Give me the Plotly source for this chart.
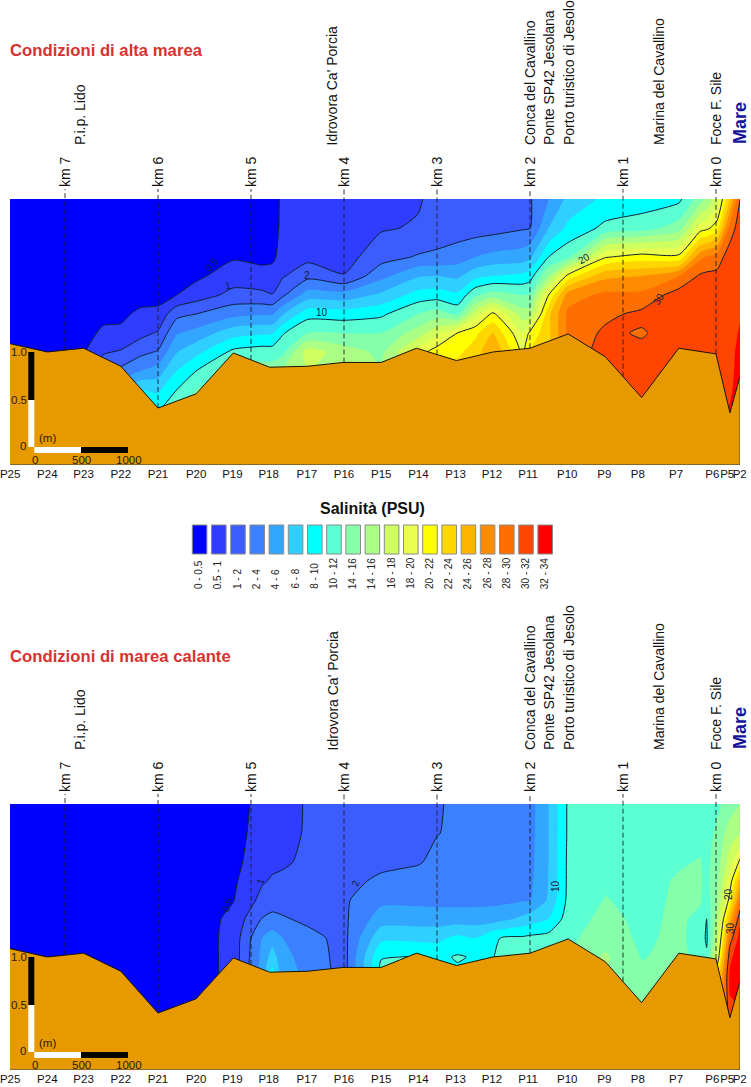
import numpy as np
import plotly.graph_objects as go

W, H = 751, 1087

# ---------- data ----------
stations = ["P25","P24","P23","P22","P21","P20","P19","P18","P17","P16","P15","P14","P13","P12","P11","P10","P9","P8","P7","P6","P5","P2"]
tick_km = [7.59,7.19,6.80,6.40,6.00,5.59,5.20,4.81,4.40,4.00,3.60,3.20,2.80,2.41,2.02,1.60,1.20,0.84,0.43,0.04,-0.12,-0.255]
bed_km = [7.60,7.19,6.80,6.40,6.00,5.59,5.19,4.80,4.39,4.01,3.60,3.22,2.79,2.40,2.00,1.59,1.19,0.80,0.40,0.00,-0.15,-0.26]
bed_m = [1.09,1.00,1.04,0.85,0.41,0.56,0.99,0.84,0.85,0.89,0.89,1.04,0.91,1.00,1.04,1.19,0.95,0.52,1.04,0.98,0.36,0.75]
km_marks = [7,6,5,4,3,2,1,0]

grid_km = [7.60,7.19,6.80,6.59,6.40,6.19,6.00,5.80,5.59,5.19,4.88,4.77,4.66,4.39,4.00,3.60,3.20,3.00,2.78,2.59,2.40,2.08,2.00,1.80,1.59,1.19,0.80,0.40,0.17,0.10,-0.01,-0.15,-0.26]
grid_m = [2.61,2.305,2.00,1.80,1.60,1.40,1.20,1.00,0.80,0.60,0.34]

# salinity (PSU): one line per grid_km column, values from surface down (grid_m)
high_tide_psu = [
 [.2,.2,.2,.2,.2,.2,.2,.2,.2,.2,.2],
 [.2,.2,.2,.2,.2,.2,.2,.2,.2,.2,.2],
 [.2,.2,.2,.2,.2,.2,.3,.45,.5,.5,.5],
 [.2,.2,.2,.2,.3,.35,.6,.95,1.6,3,6],
 [.2,.2,.2,.2,.3,.4,.6,1.1,2.5,6,10],
 [.2,.2,.2,.2,.3,.6,.85,1.7,4,8,11],
 [.2,.2,.2,.2,.3,.65,1.1,2.2,5,7.6,10.5],
 [.2,.2,.2,.2,.5,1.7,3.8,5.9,8,10,12],
 [.2,.2,.2,.4,.75,2,4.7,7.4,10,12,14],
 [.2,.2,.45,.75,1.3,3.4,7.2,10.5,12,14,14],
 [.2,.2,.35,.7,1.2,3.8,7.7,11,13,14,14],
 [.4,.42,.45,.6,1.05,3.8,7.8,11,13,14,14],
 [.55,.55,.6,.95,1.8,5.8,9.8,11.5,14,14,14],
 [.55,.6,.85,1.7,5,9.2,12,17,16,16,16],
 [.55,.65,.8,1.05,4.8,9,12,15,16,16,16],
 [.7,.95,1.6,3.4,6.4,9.6,12,13.5,14,14,14],
 [.95,1.1,2.2,5.8,8.8,12,15,19,19,19,19],
 [1.35,1.45,2.4,6,9,13,17.5,21,22,22,22],
 [1.3,1.5,3,5.6,8.4,11.5,20,21.5,23,23,23],
 [1.35,1.5,4,7.4,11.6,17,21.5,23,24,24,24],
 [1.4,1.6,4.6,8,13,20.5,24,26,27,27,27],
 [1.8,1.9,5,8.5,12,15,18,19.5,19.5,19.5,19.5],
 [1.9,1.95,5.6,9.1,12.1,15,20.5,22,22,22,22],
 [4,6,10,14,20,23.5,23.5,24,24,24,24],
 [6.5,8.5,11.5,20.8,27,28.5,28.5,28.5,29,29,29],
 [8.4,10.5,19.8,25.5,28.5,29.5,30.4,31,31,31,31],
 [9,11,21,26,28.5,30.5,29.8,30.5,31,31,31],
 [9.5,13,20.6,28,31,31,31,31,31,31,31],
 [13,19,27.5,30.3,31,31,31,31,31,31,31],
 [14,19.5,28.2,30.5,31,31,31,31,31,31,31],
 [17,21,29,30.5,31,31,31,31,31,31,31],
 [24,29,31,31,31,31,31,31,31,31.5,32.5],
 [30,31,31.2,31.4,31.6,31.8,32.3,33,33.5,33.5,33.5],
]
ebb_tide_psu = [
 [.2,.2,.2,.2,.2,.2,.2,.2,.2,.2,.2],
 [.2,.2,.2,.2,.2,.2,.2,.2,.2,.2,.2],
 [.2,.2,.2,.2,.2,.2,.2,.2,.2,.2,.2],
 [.2,.2,.2,.2,.2,.2,.2,.2,.2,.2,.2],
 [.2,.2,.2,.2,.2,.2,.2,.2,.2,.2,.2],
 [.2,.2,.2,.2,.2,.2,.2,.2,.2,.2,.2],
 [.2,.2,.2,.2,.2,.2,.2,.2,.2,.2,.2],
 [.2,.2,.2,.2,.2,.2,.2,.2,.2,.2,.2],
 [.2,.2,.2,.2,.2,.2,.2,.2,.2,.2,.2],
 [.3,.32,.38,.42,.48,.65,.7,.7,.7,.7,.7],
 [.65,.7,.75,.95,1.3,2.1,4,4.5,5,5,5],
 [.75,.8,.9,1.1,1.5,2.6,5,7,9,9,9],
 [.8,.85,.93,1.2,1.6,2.2,4,4.6,5,5,5],
 [1.1,1.1,1.2,1.4,1.6,1.8,2.6,3.2,3.5,3.5,3.5],
 [1.4,1.5,1.6,1.75,1.85,1.8,1.7,1.6,1.6,1.6,1.6],
 [1.5,1.6,1.8,2.3,3.5,5,7.5,9.9,10.6,10.6,10.6],
 [1.85,1.9,1.95,2.5,3.5,5,7.5,10.1,10.1,10.1,10.1],
 [1.95,1.98,2.3,2.6,3.4,5,7.5,9.5,9.5,9.5,9.5],
 [2.2,2.2,2.4,2.7,3.4,5,8.5,10.2,9.5,9.5,9.5],
 [2.5,2.5,2.6,2.85,3.4,5,8,9.8,9.8,9.8,9.8],
 [2.8,2.8,2.9,3,3.5,5,9.9,9.95,10,10,10],
 [3.1,3.2,3.3,3.5,3.8,6.5,10.3,11,11,11,11],
 [3.2,3.3,3.4,3.6,3.8,7,10.5,11,11,11,11],
 [6,6,6,6.1,6.3,8,10.8,11.5,12,12,12],
 [10.3,10.3,10.4,10.4,10.5,11,11.5,12,12,12,12],
 [10.8,11,11.3,11.7,12.1,12.6,13.2,14.3,14,14,14],
 [11,11.1,11.2,11.3,11.4,11.5,11.6,11.9,12.5,12.8,13],
 [11,11.3,11.8,12.2,12.3,12.4,12.5,12.5,12.5,12.5,12.5],
 [11,11.5,12.1,12.2,12.2,11.5,11,11.5,12,12,12],
 [11,11,11.5,11.5,11,9.95,9.7,10.3,11,11,11],
 [11.5,12.5,13,13.5,14,15,16,18,22,23,23],
 [13,15,17,19,20.8,25,29,31.5,32.5,32,31],
 [14,16,20.5,25,28.5,31.5,33,33.5,33.5,33,31],
]

class_bounds = [0,.5,1,2,4,6,8,10,12,14,16,18,20,22,24,26,28,30,32,34]
class_labels = ["0 - 0.5","0.5 - 1","1 - 2","2 - 4","4 - 6","6 - 8","8 - 10","10 - 12","14 - 16","14 - 16","16 - 18","18 - 20","20 - 22","22 - 24","24 - 26","26 - 28","28 - 30","30 - 32","32 - 34"]
class_colors = ["#0000FF","#2E3DFF","#3B5CFF","#3A80FF","#33A6FF","#2FD0FF","#00FFFF","#5CFFD1","#85FFA9","#ABFF84","#CFFF5E","#E8FF50","#FFFF00","#FFD700","#FFB400","#FF8C00","#FF6E00","#FF4500","#FF0000"]
line_levels = [0.5,1,2,10,20,30]

site_labels = ["P.i.p. Lido","Idrovora Ca' Porcia","Conca del Cavallino","Ponte SP42 Jesolana","Porto turistico di Jesolo","Marina del Cavallino","Foce F. Sile"]
site_x_px = [80,332,530,549,569,659,716]

panel_titles = ["Condizioni di alta marea","Condizioni di marea calante"]
bed_color = "#E69A00"
FONT = "Liberation Sans"

# labels on isolines: text, x px, y px in upper-panel frame, angle
high_labels = [("0.5",212,265,-50),("1",228,285,-10),("2",307,275,0),("10",322,312,0),("20",584,258,-30),("30",659,299,-60)]
ebb_labels = [("0.5",227,300,-75),("1",260,276,-70),("2",355,278,-70),("10",555,281,-90),("20",728,289,-90),("30",730,323,-90)]

# ---------- helpers ----------
def fx(px): return px / W
def fy(py): return 1 - py / H

X_RANGE = [(716 - 10) / 93, (716 - 740) / 93]
Y_RANGE = [(447 - 465) / 95, (447 - 187) / 95]
DASH_TOP = (447 - 189) / 95
OFFSET = 605

fig = go.Figure()
annotations, shapes = [], []

def text(s, x, y, size=11, color="#111", angle=0, xa="center", ya="middle", bold=False, family=FONT):
    annotations.append(dict(text=f"<b>{s}</b>" if bold else s, x=fx(x), y=fy(y), xref="paper", yref="paper",
        showarrow=False, font=dict(size=size, color=color, family=family), textangle=angle,
        xanchor=xa, yanchor=ya, borderpad=0, borderwidth=0))

def rect(x0, y0, x1, y1, fill, line="rgba(0,0,0,0)", lw=0):
    shapes.append(dict(type="rect", xref="paper", yref="paper", x0=fx(x0), x1=fx(x1), y0=fy(y0), y1=fy(y1),
        fillcolor=fill, line=dict(color=line, width=lw), layer="above"))

n = len(class_colors)
scale = []
for i, c in enumerate(class_colors):
    scale += [[i / n, c], [(i + 1) / n, c]]
idx_levels = np.arange(len(class_bounds))

def to_idx(z):
    return np.interp(np.array(z, dtype=float), class_bounds, idx_levels)

bed_sorted = sorted(zip(bed_km, bed_m))
def bed_at(k):
    return float(np.interp(k, [b[0] for b in bed_sorted], [b[1] for b in bed_sorted]))

def panel(sfx, psu, off, labels, title):
    xa, ya = "x" + sfx, "y" + sfx
    z = to_idx(psu).T
    fig.add_trace(go.Contour(x=grid_km, y=grid_m, z=z, xaxis=xa, yaxis=ya, zmin=0, zmax=n,
        colorscale=scale, showscale=False, hoverinfo="skip", line=dict(width=0, smoothing=0.6),
        contours=dict(coloring="fill", start=1, end=n - 1, size=1, showlines=False)))
    for lev in line_levels:
        v = float(to_idx(lev))
        fig.add_trace(go.Contour(x=grid_km, y=grid_m, z=z, xaxis=xa, yaxis=ya, showscale=False, hoverinfo="skip",
            colorscale=[[0, "#10203a"], [1, "#10203a"]], line=dict(width=1, color="#10203a", smoothing=0.6),
            contours=dict(coloring="none", start=v, end=v, size=1, showlines=True)))
    # bed
    base = Y_RANGE[0]
    fig.add_trace(go.Scatter(x=list(bed_km) + [bed_km[-1], bed_km[0]], y=list(bed_m) + [base, base], xaxis=xa, yaxis=ya,
        mode="lines", fill="toself", fillcolor=bed_color, line=dict(width=0), hoverinfo="skip", showlegend=False))
    fig.add_trace(go.Scatter(x=bed_km, y=bed_m, xaxis=xa, yaxis=ya, mode="lines",
        line=dict(color="#1a1200", width=1), hoverinfo="skip", showlegend=False))
    fig.add_trace(go.Scatter(x=[bed_km[-1], bed_km[-1], bed_km[0]], y=[bed_m[-1], base, base], xaxis=xa, yaxis=ya, mode="lines",
        line=dict(color="#6a5a30", width=1.5), hoverinfo="skip", showlegend=False))
    # km dashed lines
    for k in km_marks:
        fig.add_trace(go.Scatter(x=[k, k], y=[bed_at(k), DASH_TOP], xaxis=xa, yaxis=ya, mode="lines",
            line=dict(color="#1c1c28", width=0.9, dash="5px,3px"), hoverinfo="skip", showlegend=False))
        text(f"km {k}", 716 - k * 93 + 0.5, 187 + off, size=14, angle=-90, ya="bottom", color="#111")
    # isoline labels
    for s, x, y, a in labels:
        text(s, x, y + off, size=10, angle=a, color="#10203a")
    # site names, sea, title
    for s, x in zip(site_labels, site_x_px):
        text(s, x, 145.5 + off, size=14, angle=-90, ya="bottom", color="#111")
    text("Mare", 740, 144 + off, size=18, angle=-90, ya="bottom", color="#14149a", bold=True)
    text(title, 10, 51 + off, size=16.7, color="#d8322e", xa="left", bold=True)
    # scale bars
    rect(28.3, 352 + off, 34.3, 400 + off, "#000000")
    rect(28.3, 400 + off, 34.3, 447 + off, "#FFFFFF")
    rect(34.3, 447 + off, 81, 453 + off, "#FFFFFF")
    rect(81, 447 + off, 128, 453 + off, "#000000")
    for s, x, y in [("1.0", 19, 352), ("0.5", 19, 400), ("0", 23, 446), ("(m)", 47, 438), ("0", 35, 460), ("500", 81, 460), ("1000", 129, 460)]:
        text(s, x, y + off, size=11.5, color="#2a1c00")

panel("", high_tide_psu, 0, high_labels, panel_titles[0])
panel("2", ebb_tide_psu, OFFSET, ebb_labels, panel_titles[1])

# legend
text("Salinità (PSU)", 372, 508, size=16, bold=True, color="#111")
for i, (c, lab) in enumerate(zip(class_colors, class_labels)):
    x0 = 192.3 + i * 19.2
    rect(x0, 525, x0 + 14.6, 554, c, line="#8a8a8a", lw=1)
    text(lab, x0 + 6.3, 589, size=10, angle=-90, ya="bottom", color="#222")

axis_common = dict(range=X_RANGE, tickmode="array", tickvals=tick_km, ticktext=stations, ticks="", showgrid=False,
                   zeroline=False, showline=False, tickfont=dict(family=FONT, size=11.5, color="#111"), ticklen=0,
                   tickangle=0, automargin=False, ticklabeloverflow="allow")
y_common = dict(range=Y_RANGE, showgrid=False, zeroline=False, showline=False, showticklabels=False, ticks="", automargin=False)
fig.update_layout(
    width=W, height=H, autosize=False, margin=dict(l=0, r=0, t=0, b=0, autoexpand=False), showlegend=False,
    paper_bgcolor="white", plot_bgcolor="rgba(0,0,0,0)", font=dict(family=FONT),
    xaxis=dict(domain=[fx(10), fx(740)], anchor="y", **axis_common),
    yaxis=dict(domain=[fy(465), fy(187)], anchor="x", **y_common),
    xaxis2=dict(domain=[fx(10), fx(740)], anchor="y2", **axis_common),
    yaxis2=dict(domain=[fy(465 + OFFSET), fy(187 + OFFSET)], anchor="x2", **y_common),
    annotations=annotations, shapes=shapes,
)
fig.write_html("out.html", config=dict(displayModeBar=False),
               post_script="document.body.style.margin='0';document.body.style.overflow='hidden';")
